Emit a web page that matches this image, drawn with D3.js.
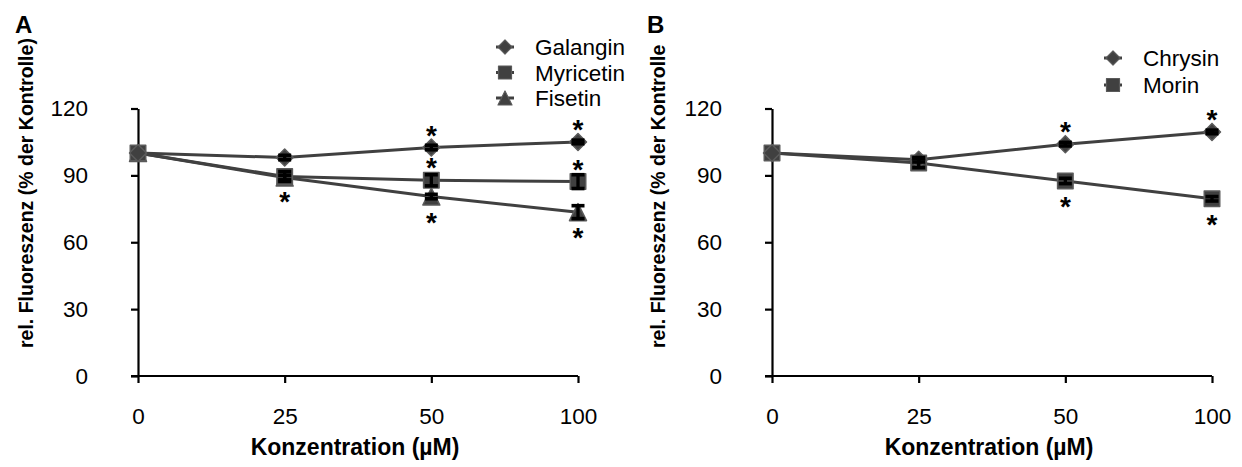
<!DOCTYPE html>
<html>
<head>
<meta charset="utf-8">
<script src="https://cdn.jsdelivr.net/npm/d3@7"></script>
<style>
  body { margin: 0; background: #fff; }
  text { font-family: "Liberation Sans", Arial, sans-serif; fill: #000; }
</style>
</head>
<body>
<div id="chart"></div>
<script>
// ---- data ----
var concentrations = ["0", "25", "50", "100"];
var yTicks = [0, 30, 60, 90, 120];

// panel A
var galangin     = [100, 98, 102.5, 105];
var galanginErr  = [0, 1, 1, 0.8];
var galanginSig  = [0, 0, 1, 1];       // 1 = star above, -1 = star below
var myricetin    = [100, 89.5, 87.8, 87.2];
var myricetinErr = [0, 2.2, 2.5, 3.1];
var myricetinSig = [0, -1, 1, 1];
var fisetin      = [100, 89, 80.5, 73.5];
var fisetinErr   = [0, 1, 1, 2.9];
var fisetinSig   = [0, 0, -1, -1];

// panel B
var chrysin      = [100, 97, 104, 109.5];
var chrysinErr   = [0, 1, 0.8, 0.8];
var chrysinSig   = [0, 0, 1, 1];
var morin        = [100, 95.5, 87.5, 79.5];
var morinErr     = [0, 2, 1.2, 1];
var morinSig     = [0, 0, -1, -1];

var width = 1242, height = 467;
var lineColor = "#404040";

var svg = d3.select("#chart").append("svg")
  .attr("width", width)
  .attr("height", height);

svg.append("rect").attr("width", width).attr("height", height).attr("fill", "#fff");

// marker shapes
function markerPath(shape, s) {
  var h = s / 2;
  if (shape == "diamond") return "M0," + (-h) + "L" + h + ",0L0," + h + "L" + (-h) + ",0Z";
  if (shape == "triangle") return "M0," + (-h) + "L" + h + "," + h + "L" + (-h) + "," + h + "Z";
  return "M" + (-h) + "," + (-h) + "H" + h + "V" + h + "H" + (-h) + "Z";
}

function drawPanel(opt) {
  var g = svg.append("g");

  var x = d3.scalePoint().domain(concentrations).range([opt.x0, opt.x1]);
  var y = d3.scaleLinear().domain([0, 120]).range([376, 108.5]);

  var yAxis = d3.axisLeft(y).tickValues(yTicks).tickSize(7).tickSizeOuter(0).tickPadding(43);
  var gy = g.append("g").attr("transform", "translate(" + opt.x0 + ",0)").call(yAxis);

  var xAxis = d3.axisBottom(x).tickSize(7).tickSizeOuter(0).tickPadding(25);
  var gx = g.append("g").attr("transform", "translate(0,376)").call(xAxis);

  [gx, gy].forEach(function (a) {
    a.selectAll("path, line").attr("stroke", "#000").attr("stroke-width", 2.2);
    a.selectAll("text").style("font-size", "22.5px").attr("fill", "#000");
  });
  gx.select(".domain").attr("d", "M" + (opt.x0 - 7) + ",0H" + opt.x1);

  // axis titles
  g.append("text")
    .attr("transform", "translate(" + opt.titleX + ",348) rotate(-90)")
    .attr("text-anchor", "start")
    .style("font-size", "19.5px")
    .style("font-weight", "bold")
    .text(opt.yTitle);

  g.append("text")
    .attr("x", (opt.x0 + opt.x1) / 2 - 3)
    .attr("y", 455)
    .attr("text-anchor", "middle")
    .style("font-size", "23px")
    .style("font-weight", "bold")
    .text("Konzentration (\u00b5M)");

  // panel letter
  g.append("text")
    .attr("x", opt.letterX)
    .attr("y", 33)
    .style("font-size", "24px")
    .style("font-weight", "bold")
    .text(opt.letter);

  var line = d3.line()
    .x(function (d, i) { return x(concentrations[i]); })
    .y(function (d) { return y(d); });

  // lines
  opt.series.forEach(function (s) {
    g.append("path")
      .datum(s.values)
      .attr("d", line)
      .attr("fill", "none")
      .attr("stroke", lineColor)
      .attr("stroke-width", 3);
  });

  // markers (drawn last series first)
  opt.series.slice().reverse().forEach(function (s) {
    g.selectAll(null)
      .data(s.values)
      .enter()
      .append("path")
      .attr("transform", function (d, i) { return "translate(" + x(concentrations[i]) + "," + y(d) + ")"; })
      .attr("d", markerPath(s.shape, s.shape == "square" ? 15.5 : 17))
      .attr("fill", lineColor)
      .attr("stroke", "#5a5a5a")
      .attr("stroke-width", 1.5)
      .attr("stroke-linejoin", "round");
  });

  // error bars
  opt.series.forEach(function (s) {
    s.values.forEach(function (v, i) {
      var e = s.err[i];
      if (!e) return;
      var cx = x(concentrations[i]);
      var top = y(v + e), bot = y(v - e);
      g.append("line").attr("x1", cx).attr("x2", cx).attr("y1", top).attr("y2", bot)
        .attr("stroke", "#000").attr("stroke-width", 3.3);
      [top, bot].forEach(function (yy) {
        g.append("line").attr("x1", cx - 6.5).attr("x2", cx + 6.5).attr("y1", yy).attr("y2", yy)
          .attr("stroke", "#000").attr("stroke-width", 3.6);
      });
    });
  });

  // significance stars
  opt.series.forEach(function (s) {
    s.sig.forEach(function (sg, i) {
      if (!sg) return;
      var cy = y(s.values[i]) - sg * 19;
      g.append("text")
        .attr("x", x(concentrations[i]))
        .attr("y", cy + 16)
        .attr("text-anchor", "middle")
        .style("font-size", "28px")
        .style("font-weight", "bold")
        .text("*");
    });
  });

  // legend
  opt.series.forEach(function (s, k) {
    var ly = opt.legendY + k * opt.legendStep;
    g.append("line")
      .attr("x1", opt.legendX - 9).attr("x2", opt.legendX + 9)
      .attr("y1", ly).attr("y2", ly)
      .attr("stroke", lineColor).attr("stroke-width", 3);
    g.append("path")
      .attr("transform", "translate(" + opt.legendX + "," + ly + ")")
      .attr("d", markerPath(s.shape, s.shape == "square" ? 13 : 14))
      .attr("fill", lineColor)
      .attr("stroke", "#5a5a5a")
      .attr("stroke-width", 1.2)
      .attr("stroke-linejoin", "round");
    g.append("text")
      .attr("x", opt.legendX + 30)
      .attr("y", ly + 8)
      .style("font-size", "22.5px")
      .text(s.name);
  });
}

drawPanel({
  letter: "A", letterX: 15,
  x0: 138, x1: 578,
  titleX: 33,
  yTitle: "rel. Fluoreszenz (% der Kontrolle)",
  legendX: 505, legendY: 47, legendStep: 25.5,
  series: [
    { name: "Galangin",  shape: "diamond",  values: galangin,  err: galanginErr,  sig: galanginSig },
    { name: "Myricetin", shape: "square",   values: myricetin, err: myricetinErr, sig: myricetinSig },
    { name: "Fisetin",   shape: "triangle", values: fisetin,   err: fisetinErr,   sig: fisetinSig }
  ]
});

drawPanel({
  letter: "B", letterX: 647,
  x0: 772, x1: 1212,
  titleX: 665,
  yTitle: "rel. Fluoreszenz (% der Kontrolle",
  legendX: 1113, legendY: 58, legendStep: 27,
  series: [
    { name: "Chrysin", shape: "diamond", values: chrysin, err: chrysinErr, sig: chrysinSig },
    { name: "Morin",   shape: "square",  values: morin,   err: morinErr,   sig: morinSig }
  ]
});
</script>
</body>
</html>
